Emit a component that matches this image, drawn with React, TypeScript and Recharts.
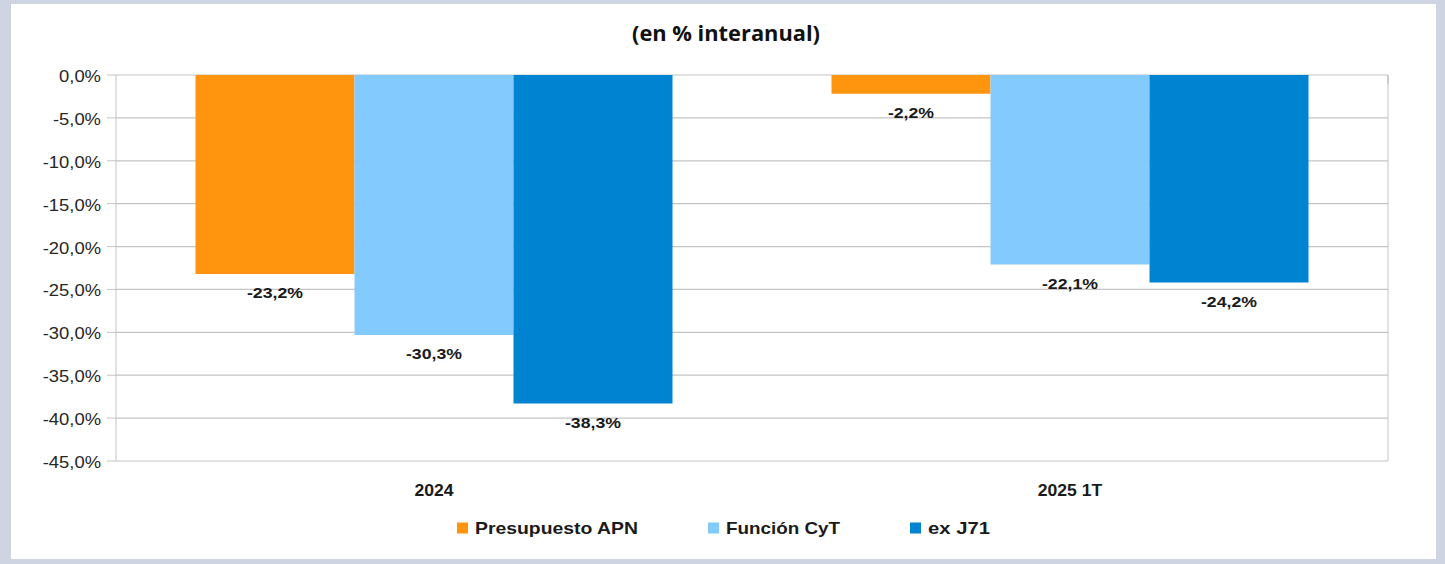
import React from "react";
import { Bar, BarChart, CartesianGrid, LabelList, XAxis, YAxis } from "recharts";

const CATEGORIES = ["2024", "2025 1T"];
const PRESUPUESTO_APN = [-23.2, -2.2];
const FUNCION_CYT = [-30.3, -22.1];
const EX_J71 = [-38.3, -24.2];
const Y_TICKS = [0, -5, -10, -15, -20, -25, -30, -35, -40, -45];

const SERIES = [
  { key: "apn", name: "Presupuesto APN", color: "#ff950e", values: PRESUPUESTO_APN },
  { key: "cyt", name: "Función CyT", color: "#83caff", values: FUNCION_CYT },
  { key: "j71", name: "ex J71", color: "#0084d1", values: EX_J71 },
];

const data = CATEGORIES.map((cat, i) => {
  const row: Record<string, string | number> = { cat };
  SERIES.forEach((s) => (row[s.key] = s.values[i]));
  return row;
});

const FONT = "'Liberation Sans', Arial, sans-serif";
const INK = "#1a1a1a";
const pct = (v: number) => `${v.toFixed(1).replace(".", ",")}%`;

// the source chart's text is stretched sideways a bit
const stretch = (x: number, k: number) => `translate(${x},0) scale(${k},1) translate(${-x},0)`;

const YTick = ({ x, y, payload }: any) => (
  <text
    x={x}
    y={y + 7}
    textAnchor="end"
    fontFamily={FONT}
    fontSize={16}
    fill="#262626"
    transform={stretch(x, 1.15)}
  >
    {pct(payload.value)}
  </text>
);

const XTick = ({ x, y, payload }: any) => (
  <text
    x={x}
    y={y + 14}
    textAnchor="middle"
    fontFamily={FONT}
    fontWeight="bold"
    fontSize={16}
    fill={INK}
    transform={stretch(x, 1.1)}
  >
    {payload.value}
  </text>
);

// label sits under the (downward) end of each bar
const BarLabel = (props: any) => {
  const { x, y, width, height, value } = props;
  const bottom = Math.max(y, y + height);
  const cx = x + width / 2;
  return (
    <text
      x={cx}
      y={bottom + 24}
      textAnchor="middle"
      fontFamily={FONT}
      fontWeight="bold"
      fontSize={15}
      fill={INK}
      transform={stretch(cx, 1.18)}
    >
      {pct(value)}
    </text>
  );
};

const EdgeTick = () => <g />;

// legend drawn on its own so it does not eat plot height
const LEGEND_TEXT_W = [163, 114, 62];
const Legend = () => {
  const sq = 11;
  const gapIn = 7;
  const gapOut = 70;
  const total =
    LEGEND_TEXT_W.reduce((a, w) => a + sq + gapIn + w, 0) + gapOut * (LEGEND_TEXT_W.length - 1);
  let cursor = 723.5 - total / 2;
  const baseline = 534;
  return (
    <svg width={1445} height={564} style={{ position: "absolute", left: 0, top: 0 }}>
      {SERIES.map((s, i) => {
        const x0 = cursor;
        cursor += sq + gapIn + LEGEND_TEXT_W[i] + gapOut;
        return (
          <g key={s.key}>
            <rect x={x0} y={baseline - sq - 0.5} width={sq} height={sq} fill={s.color} />
            <text
              x={x0 + sq + gapIn}
              y={baseline}
              fontFamily={FONT}
              fontWeight="bold"
              fontSize={17}
              fill={INK}
              textLength={LEGEND_TEXT_W[i]}
              lengthAdjust="spacingAndGlyphs"
            >
              {s.name}
            </text>
          </g>
        );
      })}
      <text
        x={726}
        y={41}
        textAnchor="middle"
        fontFamily="'Open Sans', Lato, sans-serif"
        fontWeight="bold"
        fontSize={22}
        fill="#111"
        textLength={188}
        lengthAdjust="spacingAndGlyphs"
      >
        (en % interanual)
      </text>
    </svg>
  );
};

export default function App() {
  return (
    <div style={{ position: "fixed", left: 0, top: 0, width: 1445, height: 564, background: "#cfd4e2" }}>
      <div style={{ position: "absolute", left: 11, top: 4, width: 1425, height: 555, background: "#fff" }} />
      <div style={{ position: "absolute", left: 0, top: 0 }}>
        <BarChart
          width={1445}
          height={564}
          data={data}
          margin={{ top: 75, right: 56, left: 16, bottom: 73 }}
          barCategoryGap="12.5%"
          barGap={0}
        >
          <CartesianGrid vertical={false} stroke="#c4c4c4" strokeWidth={1.2} />
          <XAxis
            dataKey="cat"
            axisLine={false}
            tickLine={false}
            tickSize={0}
            tickMargin={21}
            height={30}
            tick={<XTick />}
          />
          <XAxis
            xAxisId="edge"
            type="number"
            orientation="top"
            domain={[0, 2]}
            ticks={[1]}
            height={1}
            mirror
            axisLine={false}
            tick={<EdgeTick />}
            tickSize={9}
            stroke="#a8a8a8"
          />
          <YAxis
            domain={[-45, 0]}
            ticks={Y_TICKS}
            interval={0}
            width={100}
            tickSize={9}
            tickMargin={6}
            stroke="#c4c4c4"
            tick={<YTick />}
          />
          <YAxis yAxisId="right" orientation="right" width={1} tick={false} tickLine={false} stroke="#c4c4c4" />
          {SERIES.map((s) => (
            <Bar key={s.key} dataKey={s.key} name={s.name} fill={s.color} isAnimationActive={false}>
              <LabelList dataKey={s.key} content={<BarLabel />} />
            </Bar>
          ))}
        </BarChart>
      </div>
      <Legend />
    </div>
  );
}
